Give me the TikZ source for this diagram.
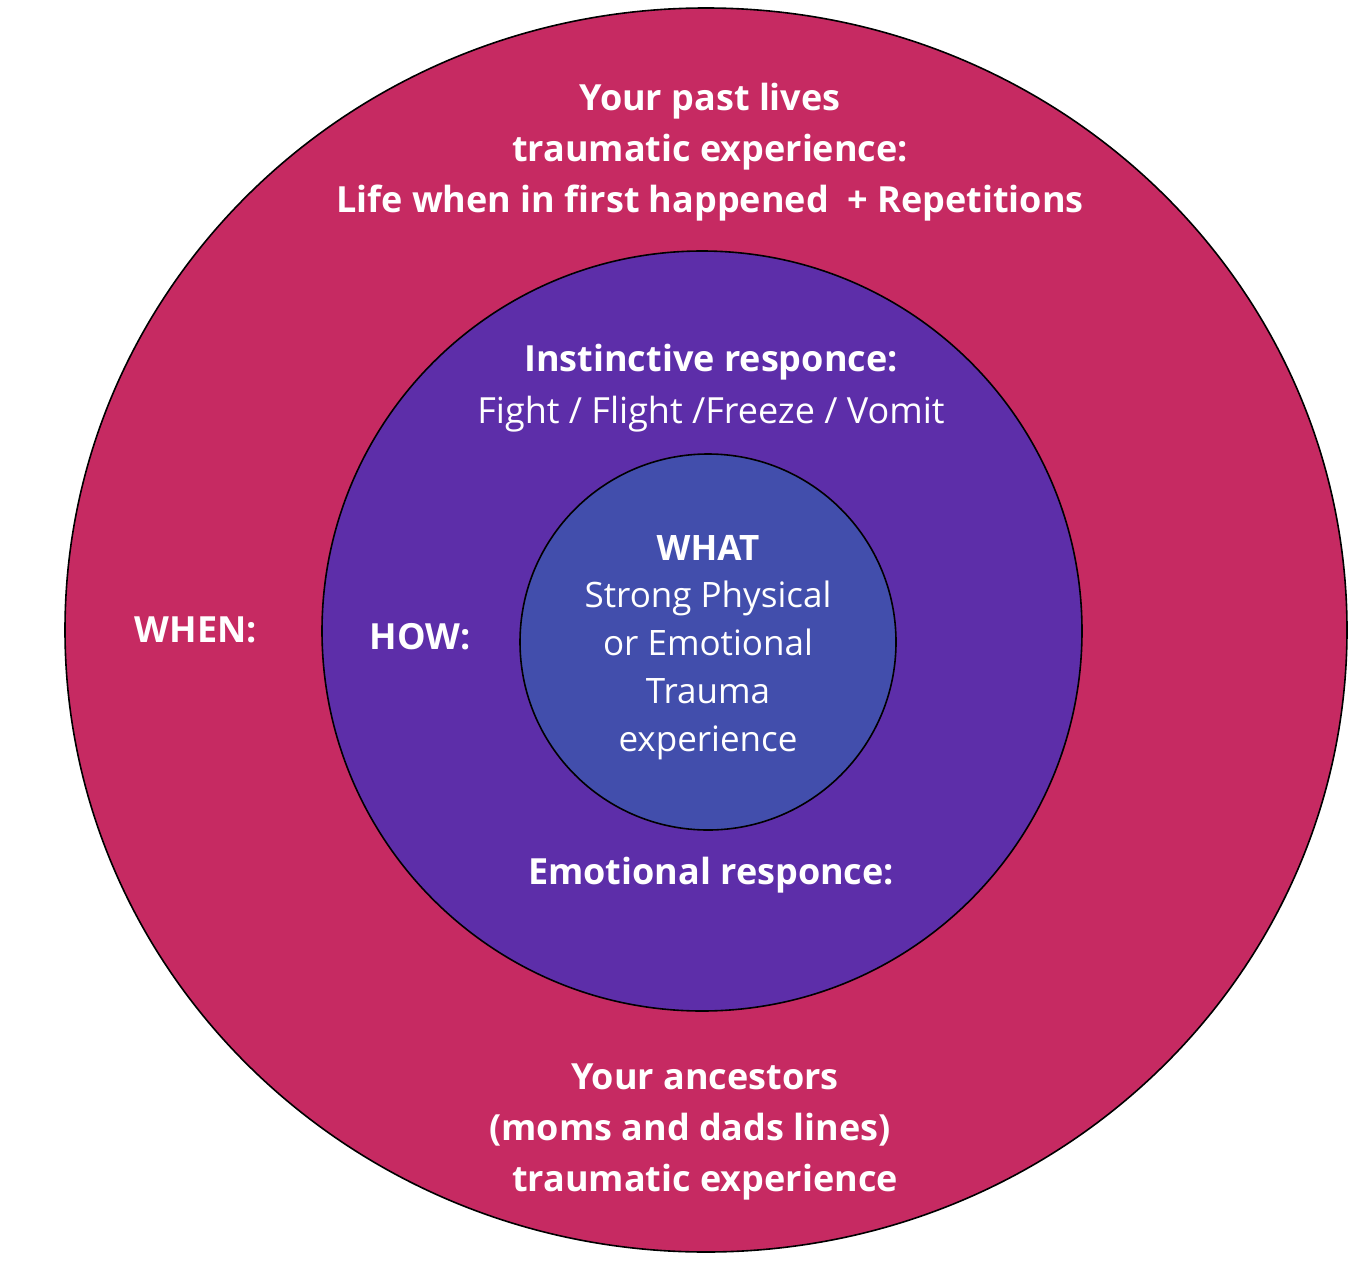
\documentclass[tikz,border=0pt]{standalone}
\usepackage{fontspec}
\setmainfont{Open Sans}
\usetikzlibrary{shapes.geometric}

\definecolor{ringred}{HTML}{C62A62}
\definecolor{ringviolet}{HTML}{5D2EA9}
\definecolor{ringblue}{HTML}{424EAC}

\tikzset{
	ring/.style={draw=black,line width=1.6pt,inner sep=0pt},
	bold label/.style={text=white,align=center,inner sep=0pt,font=\fontsize{36}{51}\selectfont\bfseries},
	plain label/.style={text=white,align=center,inner sep=0pt,font=\fontsize{35}{48}\selectfont}
}

\begin{document}
\begin{tikzpicture}[x=1pt,y=-1pt]
			\useasboundingbox (0,0) rectangle (1360,1282);

			\node (when)	at	(706,630) [ring,ellipse,fill=ringred,minimum width=1282,minimum height=1244] {};
			\node (how)	at	(702,631) [ring,circle,fill=ringviolet,minimum size=760] {};
			\node (what)	at	(708,642) [ring,circle,fill=ringblue,minimum size=376] {};

			\node (pastlives)	at	(710,152) [bold label] {Your past lives\\traumatic experience:\\Life when in first happened~~+ Repetitions};
			\node (ancestors)	at	(705,1132) [bold label] {Your ancestors\\(moms and dads lines)\rule{30pt}{0pt}\\traumatic experience};
			\node (whenlabel)	at	(196,630) [bold label] {WHEN:};
			\node (howlabel)	at	(420,637) [bold label] {HOW:};
			\node (instinct)	at	(711,362) [bold label] {Instinctive responce:};
			\node (fight)	at	(711,414) [plain label,font=\fontsize{36}{48}\selectfont] {Fight / Flight /Freeze / Vomit};
			\node (emotion)	at	(711,875) [bold label] {Emotional responce:};
			\node (whatlabel)	at	(708,548) [bold label,font=\fontsize{35}{48}\selectfont\bfseries] {WHAT};
			\node (trauma)	at	(708,670) [plain label] {Strong Physical\\or Emotional\\Trauma\\experience};

		\end{tikzpicture}
\end{document}
